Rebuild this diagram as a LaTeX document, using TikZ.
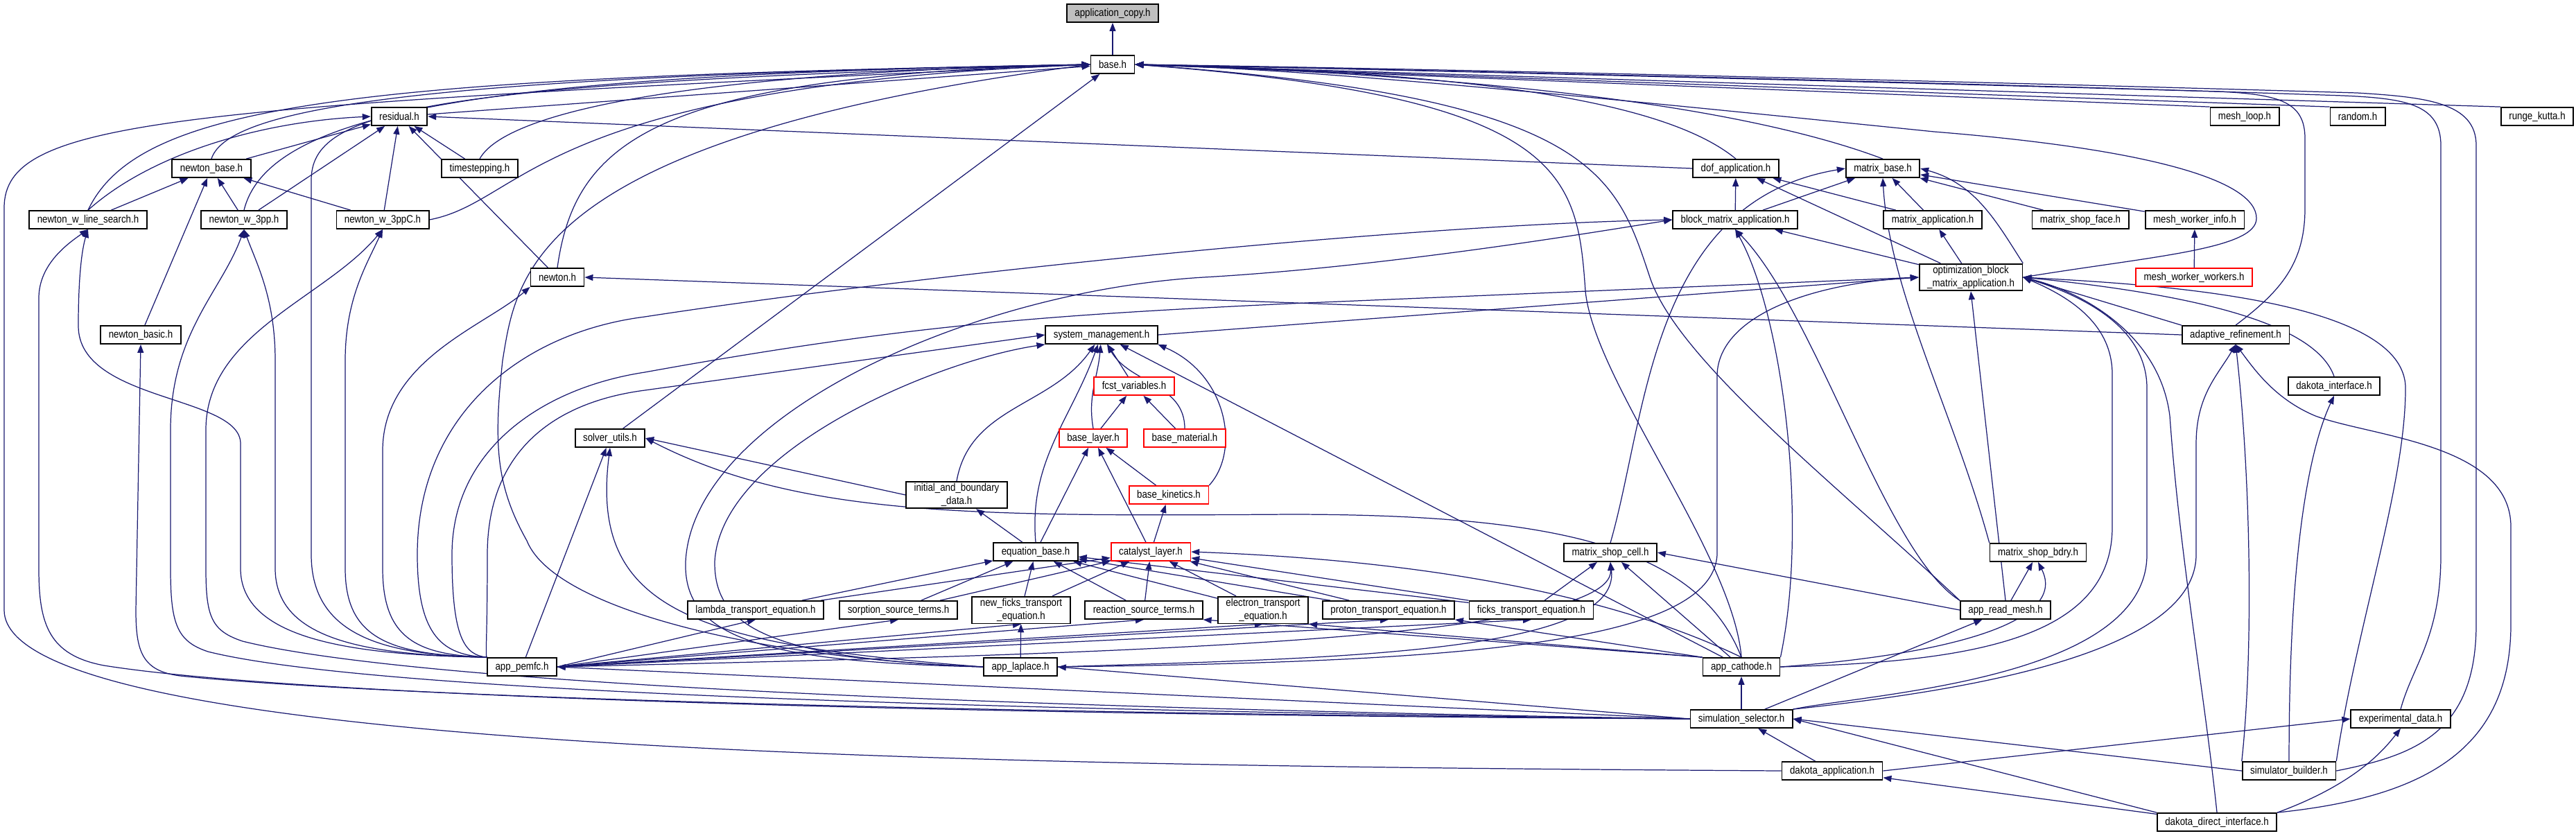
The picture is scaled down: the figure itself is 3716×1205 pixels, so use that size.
\documentclass[tikz,border=0pt]{standalone}
\usepackage{fontspec}
\setmainfont{Liberation Sans}[FakeStretch=0.86]
\usetikzlibrary{arrows.meta}
\definecolor{dotblue}{RGB}{25,25,112}
\definecolor{dotgray}{RGB}{191,191,191}
\definecolor{dotred}{RGB}{255,0,0}
\pgfdeclarelayer{edges}
\pgfsetlayers{edges,main}
\tikzset{
  box/.style={
    draw=black,
    line width=0.5pt,
    fill=white,
    align=center,
    inner xsep=0.115cm,
    inner ysep=0.03cm,
    minimum height=0.26cm,
    font=\fontsize{4.4}{5.2}\selectfont
  },
  redbox/.style={box, draw=dotred},
  graybox/.style={box, fill=dotgray},
  dep/.style={-{Triangle[length=0.12cm,width=0.09cm]}, line width=0.35pt, draw=dotblue}
}

\begin{document}
\begin{tikzpicture}[x=0.01cm, y=0.01cm]
  \useasboundingbox (0,0) rectangle (3716,-1205);
  \node[graybox] (ac) at (1605,-19) {application\_copy.h};
  \node[box] (base) at (1605,-93) {base.h};
  \node[box] (res) at (576,-168) {residual.h};
  \node[box] (mloop) at (3238,-168) {mesh\_loop.h};
  \node[box] (rand) at (3401,-168) {random.h};
  \node[box] (rk) at (3660,-168) {runge\_kutta.h};
  \node[box] (nb) at (305,-243) {newton\_base.h};
  \node[box] (ts) at (692,-243) {timestepping.h};
  \node[box] (dof) at (2504,-243) {dof\_application.h};
  \node[box] (mb) at (2716,-243) {matrix\_base.h};
  \node[box] (nwls) at (127,-317) {newton\_w\_line\_search.h};
  \node[box] (nw3) at (352,-317) {newton\_w\_3pp.h};
  \node[box] (nw3c) at (552,-317) {newton\_w\_3ppC.h};
  \node[box] (bma) at (2503,-317) {block\_matrix\_application.h};
  \node[box] (ma) at (2788,-317) {matrix\_application.h};
  \node[box] (msf) at (3001,-317) {matrix\_shop\_face.h};
  \node[box] (mwi) at (3166,-317) {mesh\_worker\_info.h};
  \node[box] (newton) at (804,-400) {newton.h};
  \node[box] (oba) at (2843,-400) {optimization\_block\\\_matrix\_application.h};
  \node[redbox] (mww) at (3165,-400) {mesh\_worker\_workers.h};
  \node[box] (nbasic) at (203,-483) {newton\_basic.h};
  \node[box] (sm) at (1589,-483) {system\_management.h};
  \node[box] (ar) at (3225,-483) {adaptive\_refinement.h};
  \node[redbox] (fv) at (1636,-557) {fcst\_variables.h};
  \node[box] (di) at (3367,-557) {dakota\_interface.h};
  \node[box] (su) at (880,-632) {solver\_utils.h};
  \node[redbox] (bl) at (1577,-632) {base\_layer.h};
  \node[redbox] (bm) at (1709,-632) {base\_material.h};
  \node[box] (ibd) at (1380,-714) {initial\_and\_boundary\\\_data.h};
  \node[redbox] (bk) at (1686,-714) {base\_kinetics.h};
  \node[box] (eb) at (1494,-796) {equation\_base.h};
  \node[redbox] (cl) at (1660,-796) {catalyst\_layer.h};
  \node[box] (msc) at (2323,-797) {matrix\_shop\_cell.h};
  \node[box] (msb) at (2940,-797) {matrix\_shop\_bdry.h};
  \node[box] (lte) at (1090,-880) {lambda\_transport\_equation.h};
  \node[box] (sst) at (1296,-880) {sorption\_source\_terms.h};
  \node[box] (nfte) at (1473,-880) {new\_ficks\_transport\\\_equation.h};
  \node[box] (rst) at (1650,-880) {reaction\_source\_terms.h};
  \node[box] (ete) at (1822,-880) {electron\_transport\\\_equation.h};
  \node[box] (pte) at (2003,-880) {proton\_transport\_equation.h};
  \node[box] (fte) at (2209,-880) {ficks\_transport\_equation.h};
  \node[box] (arm) at (2893,-880) {app\_read\_mesh.h};
  \node[box] (pemfc) at (753,-962) {app\_pemfc.h};
  \node[box] (lap) at (1472,-962) {app\_laplace.h};
  \node[box] (cath) at (2512,-962) {app\_cathode.h};
  \node[box] (ss) at (2512,-1037) {simulation\_selector.h};
  \node[box] (ed) at (3463,-1037) {experimental\_data.h};
  \node[box] (da) at (2643,-1112) {dakota\_application.h};
  \node[box] (sb) at (3302,-1112) {simulator\_builder.h};
  \node[box] (ddi) at (3198,-1186) {dakota\_direct\_interface.h};

  \begin{pgfonlayer}{edges}
  % base.h and application_copy.h
  \draw[dep] (base) -- (ac);
  \draw[dep] (res) -- (base);
  \draw[dep] (su) -- (base);
  \draw[dep] (nwls.north) .. controls (200,-150) and (500,-112) .. (base.west);
  \draw[dep] (nb.north) .. controls (330,-150) and (650,-110) .. (base.west);
  \draw[dep] (nw3.north) .. controls (390,-150) and (750,-108) .. (base.west);
  \draw[dep] (ts.north) .. controls (730,-160) and (1000,-105) .. (base.west);
  \draw[dep] (nw3c.east) .. controls (760,-290) and (770,-125) .. (base.west);
  \draw[dep] (newton.north) .. controls (830,-200) and (950,-110) .. (base.west);
  \draw[dep] (pemfc.north west) .. controls (560,-945) and (449,-920) .. (449,-800) -- (449,-260) .. controls (449,-160) and (600,-120) .. (base.west);
  \draw[dep] (lap.west) .. controls (1100,-950) and (800,-880) .. (760,-780) .. controls (715,-700) and (712,-640) .. (725,-520) .. controls (745,-400) and (760,-200) .. (base.west);
  \draw[dep] (da.west) .. controls (1500,-1105) and (6,-1090) .. (6,-880) -- (6,-300) .. controls (6,-170) and (250,-155) .. (base.west);
  \draw[dep] (dof.north) .. controls (2420,-160) and (2200,-105) .. (base.east);
  \draw[dep] (mb.north) .. controls (2560,-170) and (2250,-112) .. (base.east);
  \draw[dep] (mloop.north west) -- (base.east);
  \draw[dep] (rand.north west) -- (base.east);
  \draw[dep] (rk.north west) -- (base.east);
  \draw[dep] (oba.east) .. controls (3100,-370) and (3255,-360) .. (3255,-315) .. controls (3255,-260) and (3100,-215) .. (2790,-190) .. controls (2300,-140) and (1900,-100) .. (base.east);
  \draw[dep] (ar.north) .. controls (3290,-420) and (3325,-380) .. (3325,-300) -- (3325,-200) .. controls (3325,-148) and (3290,-136) .. (3200,-132) .. controls (2700,-118) and (2000,-100) .. (base.east);
  \draw[dep] (ed.north) .. controls (3480,-960) and (3521,-920) .. (3521,-800) -- (3521,-210) .. controls (3521,-150) and (3470,-142) .. (3380,-138) .. controls (2800,-118) and (2000,-100) .. (base.east);
  \draw[dep] (sb.east) .. controls (3480,-1090) and (3572,-1060) .. (3572,-900) -- (3572,-210) .. controls (3572,-148) and (3500,-140) .. (3400,-134) .. controls (2800,-116) and (2000,-98) .. (base.east);
  \draw[dep] (arm.north west) .. controls (2650,-700) and (2420,-520) .. (2380,-400) .. controls (2330,-250) and (2300,-140) .. (base.east);
  \draw[dep] (cath.north) .. controls (2500,-800) and (2300,-550) .. (2287,-420) .. controls (2275,-250) and (2260,-140) .. (base.east);
  % newton solvers
  \draw[dep] (nwls.north) .. controls (220,-220) and (380,-175) .. (res.west);
  \draw[dep] (nb) -- (res);
  \draw[dep] (nw3) -- (res);
  \draw[dep] (nw3c) -- (res);
  \draw[dep] (newton) -- (res);
  \draw[dep] (ts) -- (res);
  \draw[dep] (dof.west) -- (res.east);
  \draw[dep] (nwls) -- (nb);
  \draw[dep] (nbasic) -- (nb);
  \draw[dep] (nw3) -- (nb);
  \draw[dep] (nw3c) -- (nb);
  \draw[dep] (ar.west) -- (newton.east);
  % app_pemfc.h
  \draw[dep] (pemfc.north west) .. controls (500,-945) and (347,-920) .. (347,-820) -- (347,-640) .. controls (347,-570) and (113,-580) .. (113,-470) .. controls (113,-400) and (118,-360) .. (nwls.south);
  \draw[dep] (pemfc.north west) .. controls (520,-945) and (397,-920) .. (397,-820) -- (397,-520) .. controls (397,-430) and (370,-380) .. (nw3.south);
  \draw[dep] (pemfc.north west) .. controls (560,-945) and (498,-920) .. (498,-820) -- (498,-520) .. controls (498,-430) and (530,-380) .. (nw3c.south);
  \draw[dep] (pemfc.north west) .. controls (600,-945) and (552,-920) .. (552,-820) -- (552,-650) .. controls (552,-520) and (700,-470) .. (newton.south west);
  \draw[dep] (pemfc.north west) .. controls (640,-945) and (602,-920) .. (602,-800) .. controls (602,-600) and (750,-480) .. (930,-457) .. controls (1300,-400) and (2000,-325) .. (bma.west);
  \draw[dep] (pemfc.north west) .. controls (670,-945) and (652,-920) .. (652,-800) .. controls (652,-650) and (780,-560) .. (930,-537) .. controls (1300,-470) and (1500,-455) .. (1860,-438) -- (oba.west);
  \draw[dep] (pemfc.north west) .. controls (700,-945) and (703,-920) .. (703,-800) .. controls (703,-650) and (800,-580) .. (930,-563) -- (sm.west);
  \draw[dep] (pemfc) -- (su);
  \foreach \eq in {lte,sst,nfte,rst,ete,pte,fte}
    \draw[dep] (pemfc.east) -- (\eq.south);
  \draw[dep] (pemfc.east) .. controls (1500,-945) and (2328,-930) .. (msc.south);
  % app_laplace.h
  \draw[dep] (lap.west) .. controls (1100,-955) and (985,-920) .. (989,-810) .. controls (1000,-600) and (1400,-420) .. (1736,-400) .. controls (2000,-385) and (2300,-335) .. (bma.west);
  \draw[dep] (lap.west) .. controls (1100,-950) and (1030,-900) .. (1031,-810) .. controls (1040,-650) and (1350,-520) .. (sm.south west);
  \draw[dep] (lap.west) .. controls (1000,-930) and (850,-880) .. (su.south);
  \draw[dep] (lap) -- (nfte);
  \draw[dep] (lap.east) .. controls (1900,-950) and (2340,-945) .. (msc.south);
  \draw[dep] (lap.east) .. controls (2100,-955) and (2470,-930) .. (2477,-800) -- (2477,-540) .. controls (2480,-460) and (2600,-410) .. (oba.west);
  % simulation_selector.h
  \draw[dep] (ss.west) .. controls (1200,-1030) and (400,-1000) .. (150,-960) .. controls (70,-945) and (56,-900) .. (56,-820) -- (56,-430) .. controls (56,-380) and (100,-350) .. (nwls.south);
  \draw[dep] (ss.west) .. controls (1200,-1027) and (500,-1000) .. (260,-975) .. controls (205,-968) and (196,-940) .. (196,-880) -- (nbasic.south);
  \draw[dep] (ss.west) .. controls (1200,-1022) and (500,-990) .. (300,-940) .. controls (255,-925) and (246,-900) .. (246,-820) -- (246,-620) .. controls (246,-480) and (320,-420) .. (nw3.south);
  \draw[dep] (ss.west) .. controls (1200,-1017) and (550,-975) .. (350,-925) .. controls (305,-910) and (297,-890) .. (297,-820) -- (297,-620) .. controls (297,-480) and (470,-430) .. (nw3c.south);
  \draw[dep] (ss.west) -- (pemfc.east);
  \draw[dep] (ss.west) -- (lap.east);
  \draw[dep] (ss) -- (cath);
  \draw[dep] (ss) -- (arm);
  \draw[dep] (ss.north east) .. controls (2800,-1000) and (3168,-950) .. (3168,-800) -- (3168,-640) .. controls (3168,-570) and (3200,-540) .. (ar.south);
  \draw[dep] (ss.north east) .. controls (2700,-1000) and (3097,-980) .. (3097,-800) -- (3097,-560) .. controls (3097,-470) and (3000,-425) .. (oba.east);
  \draw[dep] (da) -- (ss);
  \draw[dep] (sb.west) -- (ss.east);
  \draw[dep] (ddi.north west) -- (ss.east);
  % dakota and builder
  \draw[dep] (ddi) -- (da);
  \draw[dep] (da.east) -- (ed.west);
  \draw[dep] (ddi.north east) .. controls (3400,-1130) and (3440,-1080) .. (ed.south);
  \draw[dep] (ddi.north east) .. controls (3500,-1150) and (3622,-1080) .. (3622,-900) -- (3622,-760) .. controls (3622,-640) and (3420,-630) .. (3340,-600) .. controls (3280,-575) and (3250,-530) .. (ar.south);
  \draw[dep] (sb.north west) .. controls (3250,-950) and (3248,-700) .. (ar.south);
  \draw[dep] (sb.north) .. controls (3302,-800) and (3330,-650) .. (di.south);
  \draw[dep] (ddi.north) .. controls (3180,-1000) and (3144,-800) .. (3130,-600) .. controls (3115,-480) and (3000,-420) .. (oba.east);
  \draw[dep] (sb.north east) .. controls (3400,-900) and (3470,-700) .. (3470,-560) .. controls (3470,-430) and (3100,-410) .. (oba.east);
  \draw[dep] (di.north) .. controls (3345,-480) and (3220,-430) .. (oba.east);
  \draw[dep] (ar.north west) -- (oba.east);
  \draw[dep] (cath.east) .. controls (2850,-955) and (3047,-920) .. (3047,-760) -- (3047,-540) .. controls (3047,-470) and (2990,-430) .. (oba.east);
  \draw[dep] (arm.north) -- (oba.south);
  \draw[dep] (sm.east) -- (oba.west);
  % matrix applications
  \draw[dep] (oba) -- (bma);
  \draw[dep] (cath.north east) .. controls (2610,-750) and (2570,-450) .. (bma.south);
  \draw[dep] (arm.north west) .. controls (2720,-800) and (2620,-450) .. (bma.south);
  \draw[dep] (bma) -- (dof);
  \draw[dep] (ma) -- (dof);
  \draw[dep] (oba) -- (dof);
  \draw[dep] (bma) -- (mb);
  \draw[dep] (ma) -- (mb);
  \draw[dep] (msf) -- (mb);
  \draw[dep] (mwi) -- (mb);
  \draw[dep] (oba.north east) .. controls (2880,-320) and (2850,-265) .. (mb.east);
  \draw[dep] (msb.north west) .. controls (2820,-600) and (2725,-420) .. (mb.south);
  \draw[dep] (msc.north) .. controls (2376,-600) and (2380,-290) .. (mb.west);
  \draw[dep] (oba) -- (ma);
  \draw[dep] (mww) -- (mwi);
  % system_management.h and layers
  \draw[dep] (ibd.north) to[out=80,in=-125] (sm);
  \draw[dep] (eb.north) to[out=95,in=-110] (sm);
  \draw[dep] (bl.north) to[out=100,in=-95] (sm);
  \draw[dep] (fv) -- (sm);
  \draw[dep] (bm.north) to[out=90,in=-60] (sm);
  \draw[dep] (bk.north east) .. controls (1790,-650) and (1770,-540) .. (sm.south east);
  \draw[dep] (cath) -- (sm);
  \draw[dep] (bl) -- (fv);
  \draw[dep] (bm) -- (fv);
  \draw[dep] (eb) -- (bl);
  \draw[dep] (cl) -- (bl);
  \draw[dep] (bk) -- (bl);
  \draw[dep] (cl) -- (bk);
  \draw[dep] (eb) -- (ibd);
  \draw[dep] (ibd.west) -- (su.east);
  \draw[dep] (cath.north) .. controls (2450,-790) and (2250,-742) .. (1860,-742) .. controls (1400,-745) and (1150,-745) .. (su.east);
  % equations
  \foreach \eq in {lte,sst,nfte,rst,ete,pte,fte} {
    \draw[dep] (\eq) -- (eb);
    \draw[dep] (\eq) -- (cl);
  }
  \draw[dep] (cath.north) .. controls (2350,-870) and (2100,-810) .. (cl.east);
  \draw[dep] (cath.north west) -- (rst.south east);
  \draw[dep] (cath.north west) -- (ete.south east);
  \draw[dep] (cath.north west) -- (pte.south east);
  \draw[dep] (fte) -- (msc);
  \draw[dep] (cath) -- (msc);
  \draw[dep] (arm.west) -- (msc.east);
  \draw[dep] (arm) -- (msb);
  \draw[dep] (cath.east) .. controls (2800,-945) and (2985,-900) .. (msb.south);
  \end{pgfonlayer}
\end{tikzpicture}
\end{document}
